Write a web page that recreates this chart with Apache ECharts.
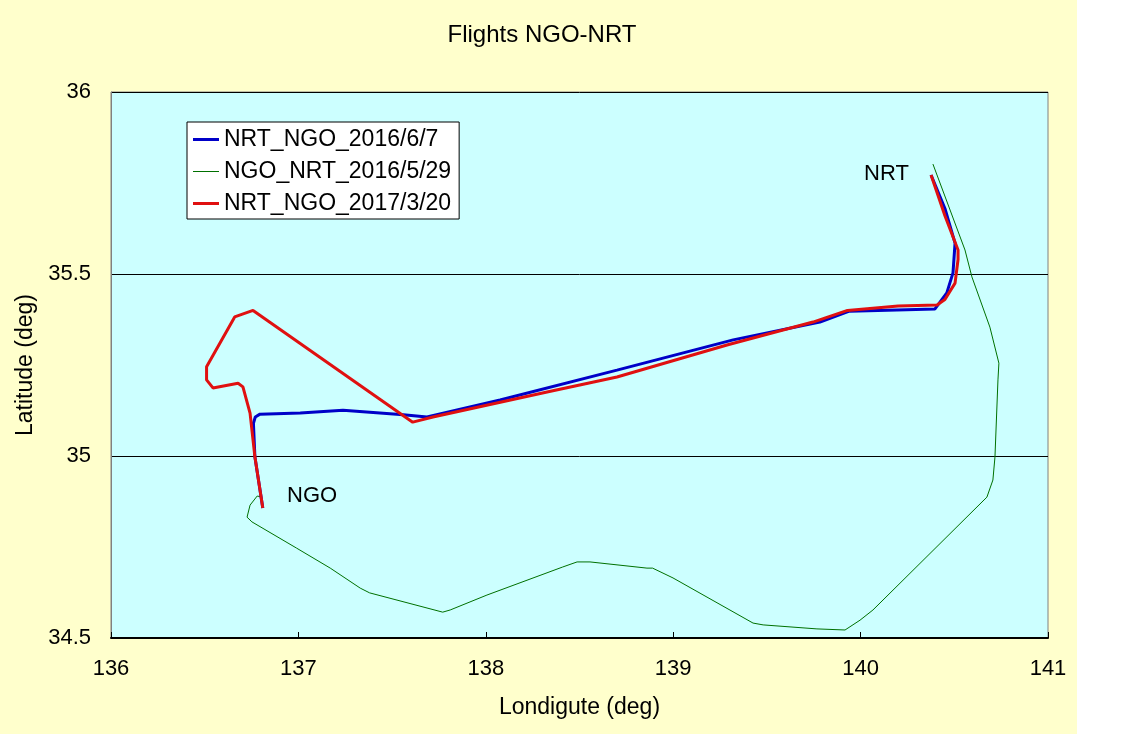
<!DOCTYPE html>
<html><head><meta charset="utf-8">
<script src="https://cdn.jsdelivr.net/npm/echarts@6/dist/echarts.min.js"></script>
<style>html,body{margin:0;padding:0;background:#fff}#c{width:1133px;height:734px}</style>
</head><body><div id="c"></div>
<script>
const title = 'Flights NGO-NRT';
const seriesNames = ['NRT_NGO_2016/6/7', 'NGO_NRT_2016/5/29', 'NRT_NGO_2017/3/20'];
const xTicks = [136, 137, 138, 139, 140, 141];
const yTicks = [34.5, 35, 35.5, 36];

// NRT_NGO_2016/6/7 (blue)
const blueLon = [140.376, 140.45, 140.504, 140.493, 140.46, 140.397, 139.94, 139.783, 139.32, 138.70, 138.076, 137.686, 137.56, 137.238, 137.01, 136.795, 136.77, 136.76, 136.768, 136.81];
const blueLat = [35.772, 35.68, 35.585, 35.503, 35.448, 35.404, 35.398, 35.368, 35.319, 35.236, 35.154, 35.107, 35.113, 35.126, 35.118, 35.115, 35.107, 35.09, 34.997, 34.857];

// NGO_NRT_2016/5/29 (green)
const greenLon = [136.806, 136.78, 136.742, 136.726, 136.752, 136.99, 137.17, 137.33, 137.38, 137.77, 137.81, 138.006, 138.41, 138.487, 138.556, 138.86, 138.89, 138.999, 139.426, 139.48, 139.767, 139.917, 139.997, 140.066, 140.674, 140.706, 140.717, 140.733, 140.738, 140.69, 140.594, 140.557, 140.386];
const greenLat = [34.887, 34.89, 34.865, 34.832, 34.819, 34.747, 34.692, 34.637, 34.624, 34.571, 34.577, 34.618, 34.695, 34.709, 34.709, 34.692, 34.692, 34.665, 34.541, 34.536, 34.525, 34.522, 34.549, 34.577, 34.887, 34.934, 34.997, 35.209, 35.255, 35.354, 35.492, 35.566, 35.802];

// NRT_NGO_2017/3/20 (red)
const redLon = [140.376, 140.45, 140.52, 140.52, 140.504, 140.45, 140.408, 140.2, 139.93, 139.746, 139.287, 138.70, 138.327, 137.718, 137.61, 136.758, 136.66, 136.51, 136.51, 136.544, 136.678, 136.704, 136.742, 136.768, 136.81];
const redLat = [35.772, 35.66, 35.566, 35.54, 35.475, 35.43, 35.415, 35.412, 35.40, 35.368, 35.305, 35.217, 35.176, 35.107, 35.093, 35.40, 35.382, 35.245, 35.209, 35.187, 35.200, 35.190, 35.118, 34.997, 34.857];

const zip = (a, b) => a.map((v, i) => [v, b[i]]);
const FONT = "'Liberation Sans', Arial, sans-serif";
const BLUE = '#0000C8', GREEN = '#007000', RED = '#E01010';

const chart = echarts.init(document.getElementById('c'), null, {renderer: 'canvas'});
chart.setOption({
  backgroundColor: '#ffffff',
  animation: false,
  graphic: [
    {type: 'rect', z: -10, shape: {x: 0, y: 0, width: 1077, height: 734}, style: {fill: '#FFFFCC'}},
    {type: 'text', z: 10, left: 864, top: 163, style: {text: 'NRT', fontSize: 22, fontFamily: FONT, fill: '#000'}},
    {type: 'text', z: 10, left: 287, top: 485, style: {text: 'NGO', fontSize: 22, fontFamily: FONT, fill: '#000'}}
  ],
  title: {
    text: title, left: 537, top: 18, textAlign: 'center',
    textStyle: {fontSize: 24, fontWeight: 'normal', color: '#000', fontFamily: FONT}
  },
  legend: {
    orient: 'vertical', left: 187, top: 122,
    backgroundColor: '#ffffff', borderColor: '#000', borderWidth: 1, borderRadius: 0,
    padding: [6, 8, 4, 6], itemGap: 9, itemWidth: 26, itemHeight: 3,
    textStyle: {fontSize: 23, color: '#000', fontFamily: FONT},
    data: [
      {name: seriesNames[0], icon: 'rect', itemStyle: {color: BLUE}},
      {name: seriesNames[1], icon: 'path://M0,0 L26,0 L26,1 L0,1 Z', itemStyle: {color: GREEN}},
      {name: seriesNames[2], icon: 'rect', itemStyle: {color: RED}}
    ]
  },
  grid: {
    left: 111, top: 92, right: 85, bottom: 96, show: true,
    backgroundColor: '#CCFFFF', borderColor: '#808080', borderWidth: 1
  },
  xAxis: {
    type: 'value', min: xTicks[0], max: xTicks[xTicks.length - 1], interval: 1,
    name: 'Londigute (deg)', nameLocation: 'middle', nameGap: 58,
    nameTextStyle: {fontSize: 23, color: '#000', fontFamily: FONT},
    axisLine: {show: true, lineStyle: {color: '#000', width: 2}},
    axisTick: {show: true, inside: true, length: 6, lineStyle: {color: '#000'}},
    axisLabel: {fontSize: 22, color: '#000', margin: 20, fontFamily: FONT},
    splitLine: {show: false}
  },
  yAxis: {
    type: 'value', min: yTicks[0], max: yTicks[yTicks.length - 1], interval: 0.5,
    name: 'Latitude (deg)', nameLocation: 'middle', nameGap: 72, nameRotate: 90,
    nameTextStyle: {fontSize: 23, color: '#000', fontFamily: FONT},
    axisLine: {show: true, lineStyle: {color: '#808080', width: 1}},
    axisTick: {show: false},
    axisLabel: {fontSize: 22, color: '#000', margin: 20, fontFamily: FONT},
    splitLine: {show: true, lineStyle: {color: '#000', width: 1}}
  },
  series: [
    {name: seriesNames[0], type: 'line', data: zip(blueLon, blueLat), showSymbol: false, symbol: 'none',
     lineStyle: {color: BLUE, width: 3}, itemStyle: {color: BLUE}, z: 3},
    {name: seriesNames[1], type: 'line', data: zip(greenLon, greenLat), showSymbol: false, symbol: 'none',
     lineStyle: {color: GREEN, width: 1}, itemStyle: {color: GREEN}, z: 2},
    {name: seriesNames[2], type: 'line', data: zip(redLon, redLat), showSymbol: false, symbol: 'none',
     lineStyle: {color: RED, width: 3}, itemStyle: {color: RED}, z: 4}
  ]
});
</script></body></html>
